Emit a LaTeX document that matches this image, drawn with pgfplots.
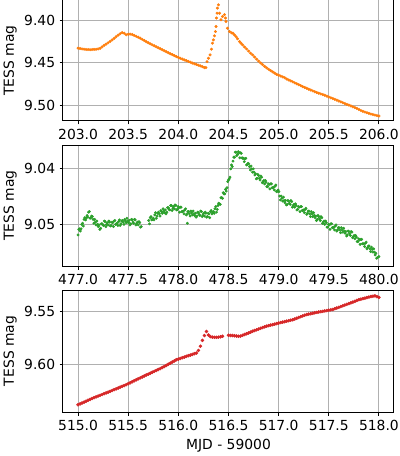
\documentclass[border=0pt]{standalone}
\usepackage{fontspec}
\setmainfont{DejaVu Sans}
\usepackage{pgfplots}
\pgfplotsset{compat=1.18}
\definecolor{tborange}{HTML}{FF7F0E}
\definecolor{tbgreen}{HTML}{2CA02C}
\definecolor{tbred}{HTML}{D62728}
\definecolor{gridgray}{HTML}{B0B0B0}
\pgfplotsset{
  lc/.style={
    scale only axis,
    width=264.8pt,
    y dir=reverse,
    axis line style={black, line width=0.8pt},
    grid=major,
    major grid style={color=gridgray, line width=0.8pt},
    tick align=outside,
    tick pos=left,
    major tick length=2.8pt,
    every tick/.style={black, line width=0.8pt},
    /pgf/number format/assume math mode=true,
    ticklabel style={font=\fontsize{11.1}{13}\selectfont},
    label style={font=\fontsize{11.1}{13}\selectfont},
    xticklabel style={/pgf/number format/.cd, fixed, fixed zerofill, precision=1, 1000 sep={}},
    yticklabel style={/pgf/number format/.cd, fixed, fixed zerofill, precision=2},
    ylabel={TESS mag},
    ylabel style={yshift=-1pt},
  }
}
\begin{document}
\begin{tikzpicture}
% ---------------- panel 1 ----------------
\begin{axis}[lc, at={(50.4pt,268pt)}, anchor=south west, height=96.8pt,
  xmin=202.85, xmax=206.15, ymin=9.3757, ymax=9.5186,
  xtick={203,203.5,204,204.5,205,205.5,206},
  ytick={9.40,9.45,9.50}]
\addplot[only marks, mark=*, mark size=1.0pt, color=tborange, mark options={draw=none, fill=tborange}] table {
x y
203.00 9.4326
203.02 9.4330
203.04 9.4335
203.06 9.4338
203.08 9.4341
203.10 9.4342
203.12 9.4344
203.14 9.4342
203.16 9.4340
203.18 9.4339
203.20 9.4335
203.22 9.4328
203.24 9.4310
203.26 9.4292
203.28 9.4278
203.30 9.4262
203.32 9.4246
203.34 9.4228
203.36 9.4210
203.38 9.4190
203.40 9.4172
203.42 9.4155
203.44 9.4142
203.46 9.4150
203.48 9.4168
203.50 9.4162
203.52 9.4160
203.54 9.4165
203.56 9.4175
203.58 9.4186
203.60 9.4196
203.62 9.4208
203.64 9.4222
203.66 9.4235
203.68 9.4250
203.70 9.4262
203.72 9.4275
203.74 9.4287
203.76 9.4298
203.78 9.4310
203.80 9.4322
203.82 9.4333
203.84 9.4345
203.86 9.4357
203.88 9.4368
203.90 9.4380
203.92 9.4392
203.94 9.4402
203.96 9.4414
203.98 9.4425
204.00 9.4435
204.02 9.4445
204.04 9.4455
204.06 9.4465
204.08 9.4474
204.10 9.4483
204.12 9.4492
204.14 9.4502
204.16 9.4510
204.18 9.4518
204.20 9.4527
204.22 9.4535
204.24 9.4545
204.26 9.4556
204.275 9.4555
204.286 9.4485
204.300 9.4445
204.316 9.4405
204.330 9.4338
204.340 9.4267
204.350 9.4228
204.360 9.4180
204.370 9.4130
204.376 9.4070
204.380 9.3970
204.386 9.3913
204.390 9.3853
204.400 9.3814
204.410 9.3913
204.425 9.3990
204.440 9.3953
204.460 9.3930
204.470 9.3970
204.475 9.4010
204.490 9.4090
204.51 9.4130
204.53 9.4145
204.545 9.4150
204.56 9.4170
204.575 9.4190
204.59 9.4215
204.61 9.4248
204.625 9.4268
204.64 9.4287
204.66 9.4312
204.68 9.4335
204.70 9.4360
204.72 9.4385
204.74 9.4405
204.76 9.4430
204.78 9.4455
204.80 9.4478
204.82 9.4500
204.84 9.4520
204.86 9.4540
204.88 9.4558
204.90 9.4575
204.92 9.4590
204.94 9.4605
204.96 9.4620
204.98 9.4635
205.00 9.4645
205.02 9.4655
205.04 9.4665
205.06 9.4675
205.08 9.4690
205.10 9.4701
205.12 9.4712
205.14 9.4723
205.16 9.4735
205.18 9.4746
205.20 9.4757
205.22 9.4768
205.24 9.4780
205.26 9.4790
205.28 9.4800
205.30 9.4810
205.32 9.4820
205.34 9.4830
205.36 9.4840
205.38 9.4850
205.40 9.4858
205.42 9.4866
205.44 9.4874
205.46 9.4882
205.48 9.4892
205.50 9.4903
205.52 9.4912
205.54 9.4921
205.56 9.4930
205.58 9.4940
205.60 9.4950
205.62 9.4960
205.64 9.4970
205.66 9.4980
205.68 9.4990
205.70 9.4998
205.72 9.5008
205.74 9.5018
205.76 9.5028
205.78 9.5038
205.80 9.5050
205.82 9.5062
205.84 9.5072
205.86 9.5080
205.88 9.5088
205.90 9.5096
205.92 9.5104
205.94 9.5110
205.96 9.5116
205.98 9.5122
206.00 9.5127
};
\end{axis}
% ---------------- panel 2 ----------------
\begin{axis}[lc, at={(50.4pt,152pt)}, anchor=south west, height=96.8pt,
  xmin=476.85, xmax=480.15, ymin=9.0357, ymax=9.0575,
  xtick={477,477.5,478,478.5,479,479.5,480},
  ytick={9.04,9.05}]
\addplot[only marks, mark=*, mark size=0.95pt, color=tbgreen, mark options={draw=none, fill=tbgreen}] table {
x y
477.000 9.0519
477.015 9.0508
477.030 9.0508
477.045 9.0498
477.060 9.0491
477.075 9.0492
477.090 9.0484
477.105 9.0478
477.120 9.0489
477.135 9.0485
477.150 9.0491
477.165 9.0491
477.180 9.0501
477.195 9.0500
477.210 9.0501
477.225 9.0507
477.240 9.0499
477.255 9.0502
477.270 9.0495
477.285 9.0500
477.300 9.0501
477.315 9.0496
477.330 9.0502
477.345 9.0497
477.360 9.0494
477.375 9.0500
477.390 9.0498
477.405 9.0495
477.420 9.0502
477.435 9.0494
477.450 9.0496
477.465 9.0491
477.480 9.0497
477.495 9.0494
477.510 9.0493
477.525 9.0499
477.540 9.0492
477.555 9.0498
477.570 9.0492
477.585 9.0498
477.600 9.0501
477.615 9.0497
477.630 9.0504
477.705 9.0493
477.720 9.0488
477.735 9.0492
477.750 9.0489
477.765 9.0483
477.780 9.0489
477.795 9.0480
477.810 9.0481
477.825 9.0475
477.840 9.0480
477.855 9.0476
477.870 9.0474
477.885 9.0478
477.900 9.0470
477.915 9.0474
477.930 9.0466
477.945 9.0471
477.960 9.0472
477.975 9.0466
477.990 9.0473
478.005 9.0470
478.020 9.0469
478.035 9.0477
478.050 9.0476
478.065 9.0474
478.080 9.0483
478.090 9.0498
478.095 9.0477
478.110 9.0481
478.125 9.0476
478.140 9.0483
478.155 9.0481
478.170 9.0480
478.185 9.0485
478.200 9.0479
478.215 9.0484
478.230 9.0477
478.245 9.0483
478.260 9.0485
478.275 9.0480
478.290 9.0486
478.305 9.0481
478.320 9.0477
478.335 9.0481
478.350 9.0477
478.365 9.0472
478.380 9.0478
478.395 9.0466
478.410 9.0463
478.425 9.0452
478.440 9.0453
478.455 9.0445
478.470 9.0437
478.485 9.0434
478.500 9.0420
478.515 9.0415
478.530 9.0393
478.545 9.0386
478.560 9.0379
478.575 9.0370
478.590 9.0374
478.605 9.0371
478.620 9.0371
478.635 9.0380
478.650 9.0381
478.665 9.0382
478.680 9.0393
478.695 9.0390
478.710 9.0396
478.725 9.0395
478.740 9.0406
478.755 9.0406
478.770 9.0409
478.785 9.0417
478.800 9.0412
478.815 9.0420
478.830 9.0415
478.845 9.0423
478.860 9.0427
478.875 9.0424
478.890 9.0432
478.905 9.0428
478.920 9.0427
478.935 9.0434
478.950 9.0433
478.965 9.0431
478.980 9.0441
478.995 9.0438
479.010 9.0449
479.025 9.0449
479.040 9.0458
479.055 9.0457
479.070 9.0457
479.085 9.0464
479.100 9.0458
479.115 9.0464
479.130 9.0459
479.145 9.0466
479.160 9.0469
479.175 9.0466
479.190 9.0473
479.205 9.0469
479.220 9.0468
479.235 9.0475
479.250 9.0474
479.265 9.0473
479.280 9.0482
479.295 9.0476
479.310 9.0481
479.325 9.0477
479.340 9.0486
479.355 9.0484
479.370 9.0485
479.385 9.0491
479.400 9.0486
479.415 9.0493
479.430 9.0488
479.445 9.0496
479.460 9.0500
479.475 9.0497
479.490 9.0505
479.505 9.0501
479.520 9.0499
479.535 9.0506
479.550 9.0505
479.565 9.0503
479.580 9.0512
479.595 9.0506
479.610 9.0510
479.625 9.0506
479.640 9.0514
479.655 9.0512
479.670 9.0513
479.685 9.0519
479.700 9.0513
479.715 9.0520
479.730 9.0514
479.745 9.0522
479.760 9.0526
479.775 9.0523
479.790 9.0531
479.805 9.0528
479.820 9.0527
479.835 9.0535
479.850 9.0535
479.865 9.0534
479.880 9.0544
479.895 9.0539
479.910 9.0544
479.925 9.0541
479.940 9.0550
479.955 9.0550
479.970 9.0552
479.985 9.0560
480.000 9.0558
};
\addplot[only marks, mark=*, mark size=0.95pt, color=tbgreen, mark options={draw=none, fill=tbgreen}] table {
x y
477.0075 9.0509
477.0225 9.0512
477.0375 9.0500
477.0525 9.0503
477.0675 9.0488
477.0825 9.0488
477.0975 9.0487
477.1125 9.0477
477.1275 9.0488
477.1425 9.0486
477.1575 9.0498
477.1725 9.0496
477.1875 9.0494
477.2025 9.0504
477.2175 9.0509
477.2325 9.0499
477.2475 9.0501
477.2625 9.0494
477.2775 9.0504
477.2925 9.0497
477.3075 9.0494
477.3225 9.0503
477.3375 9.0496
477.3525 9.0504
477.3675 9.0493
477.3825 9.0499
477.3975 9.0502
477.4125 9.0492
477.4275 9.0499
477.4425 9.0493
477.4575 9.0500
477.4725 9.0494
477.4875 9.0489
477.5025 9.0497
477.5175 9.0501
477.5325 9.0491
477.5475 9.0496
477.5625 9.0491
477.5775 9.0501
477.5925 9.0496
477.6075 9.0495
477.6225 9.0505
477.7125 9.0499
477.7275 9.0486
477.7425 9.0491
477.7575 9.0492
477.7725 9.0479
477.7875 9.0485
477.8025 9.0478
477.8175 9.0485
477.8325 9.0477
477.8475 9.0472
477.8625 9.0479
477.8775 9.0481
477.8925 9.0470
477.9075 9.0473
477.9225 9.0466
477.9375 9.0475
477.9525 9.0468
477.9675 9.0465
477.9825 9.0474
477.9975 9.0468
478.0125 9.0478
478.0275 9.0469
478.0425 9.0477
478.0575 9.0481
478.0725 9.0472
478.0875 9.0481
478.1025 9.0477
478.1175 9.0485
478.1325 9.0479
478.1475 9.0476
478.1625 9.0484
478.1775 9.0487
478.1925 9.0478
478.2075 9.0482
478.2225 9.0476
478.2375 9.0486
478.2525 9.0480
478.2675 9.0478
478.2825 9.0487
478.2975 9.0480
478.3125 9.0488
478.3275 9.0475
478.3425 9.0479
478.3575 9.0480
478.3725 9.0468
478.3875 9.0473
478.4025 9.0462
478.4175 9.0464
478.4325 9.0452
478.4475 9.0443
478.4625 9.0445
478.4775 9.0440
478.4925 9.0423
478.5075 9.0418
478.5225 9.0400
478.5375 9.0396
478.5525 9.0379
478.5675 9.0370
478.5825 9.0376
478.5975 9.0369
478.6125 9.0380
478.6275 9.0372
478.6425 9.0381
478.6575 9.0387
478.6725 9.0381
478.6875 9.0392
478.7025 9.0391
478.7175 9.0402
478.7325 9.0400
478.7475 9.0400
478.7625 9.0411
478.7775 9.0418
478.7925 9.0410
478.8075 9.0417
478.8225 9.0413
478.8375 9.0425
478.8525 9.0421
478.8675 9.0421
478.8825 9.0432
478.8975 9.0427
478.9125 9.0436
478.9275 9.0427
478.9425 9.0434
478.9575 9.0438
478.9725 9.0429
478.9875 9.0440
479.0025 9.0441
479.0175 9.0456
479.0325 9.0453
479.0475 9.0451
479.0625 9.0461
479.0775 9.0465
479.0925 9.0457
479.1075 9.0462
479.1225 9.0457
479.1375 9.0469
479.1525 9.0464
479.1675 9.0463
479.1825 9.0474
479.1975 9.0468
479.2125 9.0477
479.2275 9.0468
479.2425 9.0475
479.2575 9.0479
479.2725 9.0471
479.2875 9.0480
479.3025 9.0476
479.3175 9.0486
479.3325 9.0481
479.3475 9.0479
479.3625 9.0488
479.3775 9.0493
479.3925 9.0484
479.4075 9.0490
479.4225 9.0486
479.4375 9.0498
479.4525 9.0494
479.4675 9.0494
479.4825 9.0505
479.4975 9.0500
479.5125 9.0509
479.5275 9.0499
479.5425 9.0506
479.5575 9.0510
479.5725 9.0501
479.5875 9.0510
479.6025 9.0506
479.6175 9.0515
479.6325 9.0510
479.6475 9.0507
479.6625 9.0516
479.6775 9.0521
479.6925 9.0512
479.7075 9.0517
479.7225 9.0513
479.7375 9.0524
479.7525 9.0520
479.7675 9.0520
479.7825 9.0531
479.7975 9.0526
479.8125 9.0536
479.8275 9.0527
479.8425 9.0535
479.8575 9.0540
479.8725 9.0532
479.8875 9.0542
479.9025 9.0539
479.9175 9.0549
479.9325 9.0545
479.9475 9.0544
479.9625 9.0555
479.9775 9.0561
};
\end{axis}
% ---------------- panel 3 ----------------
\begin{axis}[lc, at={(50.4pt,35.2pt)}, anchor=south west, height=97.6pt,
  xmin=514.85, xmax=518.15, ymin=9.5303, ymax=9.6447,
  xtick={515,515.5,516,516.5,517,517.5,518},
  ytick={9.55,9.60},
  xlabel={MJD - 59000}]
\addplot[only marks, mark=*, mark size=1.2pt, color=tbred, mark options={draw=none, fill=tbred}] table {
x y
515.00 9.6379
515.02 9.6371
515.04 9.6363
515.06 9.6354
515.08 9.6346
515.10 9.6337
515.12 9.6329
515.14 9.6320
515.16 9.6312
515.18 9.6305
515.20 9.6297
515.22 9.6290
515.24 9.6283
515.26 9.6275
515.28 9.6268
515.30 9.6261
515.32 9.6253
515.34 9.6245
515.36 9.6237
515.38 9.6230
515.40 9.6222
515.42 9.6214
515.44 9.6206
515.46 9.6199
515.48 9.6191
515.50 9.6182
515.52 9.6173
515.54 9.6163
515.56 9.6154
515.58 9.6145
515.60 9.6136
515.62 9.6127
515.64 9.6118
515.66 9.6109
515.68 9.6100
515.70 9.6092
515.72 9.6083
515.74 9.6074
515.76 9.6066
515.78 9.6057
515.80 9.6048
515.82 9.6040
515.84 9.6030
515.86 9.6020
515.88 9.6010
515.90 9.5999
515.92 9.5989
515.94 9.5978
515.96 9.5968
515.98 9.5957
516.00 9.5951
516.02 9.5945
516.04 9.5938
516.06 9.5932
516.08 9.5925
516.10 9.5919
516.12 9.5913
516.14 9.5907
516.16 9.5900
516.18 9.5894
516.20 9.5870
516.22 9.5830
516.24 9.5775
516.26 9.5730
516.28 9.5692
516.30 9.5725
516.32 9.5740
516.34 9.5745
516.36 9.5747
516.38 9.5747
516.40 9.5745
516.42 9.5742
516.44 9.5737
516.50 9.5728
516.52 9.5729
516.54 9.5730
516.56 9.5732
516.58 9.5735
516.60 9.5737
516.62 9.5735
516.64 9.5728
516.66 9.5720
516.68 9.5713
516.70 9.5706
516.72 9.5698
516.74 9.5690
516.76 9.5683
516.78 9.5676
516.80 9.5669
516.82 9.5662
516.84 9.5655
516.86 9.5648
516.88 9.5642
516.90 9.5637
516.92 9.5632
516.94 9.5628
516.96 9.5623
516.98 9.5618
517.00 9.5613
517.02 9.5608
517.04 9.5604
517.06 9.5600
517.08 9.5595
517.10 9.5591
517.12 9.5586
517.14 9.5582
517.16 9.5575
517.18 9.5568
517.20 9.5560
517.22 9.5553
517.24 9.5546
517.26 9.5539
517.28 9.5533
517.30 9.5529
517.32 9.5525
517.34 9.5521
517.36 9.5517
517.38 9.5513
517.40 9.5509
517.42 9.5506
517.44 9.5503
517.46 9.5499
517.48 9.5496
517.50 9.5492
517.52 9.5489
517.54 9.5486
517.56 9.5478
517.58 9.5472
517.60 9.5465
517.62 9.5458
517.64 9.5451
517.66 9.5444
517.68 9.5437
517.70 9.5430
517.72 9.5423
517.74 9.5416
517.76 9.5409
517.78 9.5401
517.80 9.5394
517.82 9.5389
517.84 9.5384
517.86 9.5379
517.88 9.5374
517.90 9.5369
517.92 9.5364
517.94 9.5361
517.96 9.5358
517.98 9.5365
518.00 9.5372
};
\end{axis}
\pgfresetboundingbox
\useasboundingbox (0,0) rectangle (320pt,364.8pt);
\end{tikzpicture}
\end{document}
